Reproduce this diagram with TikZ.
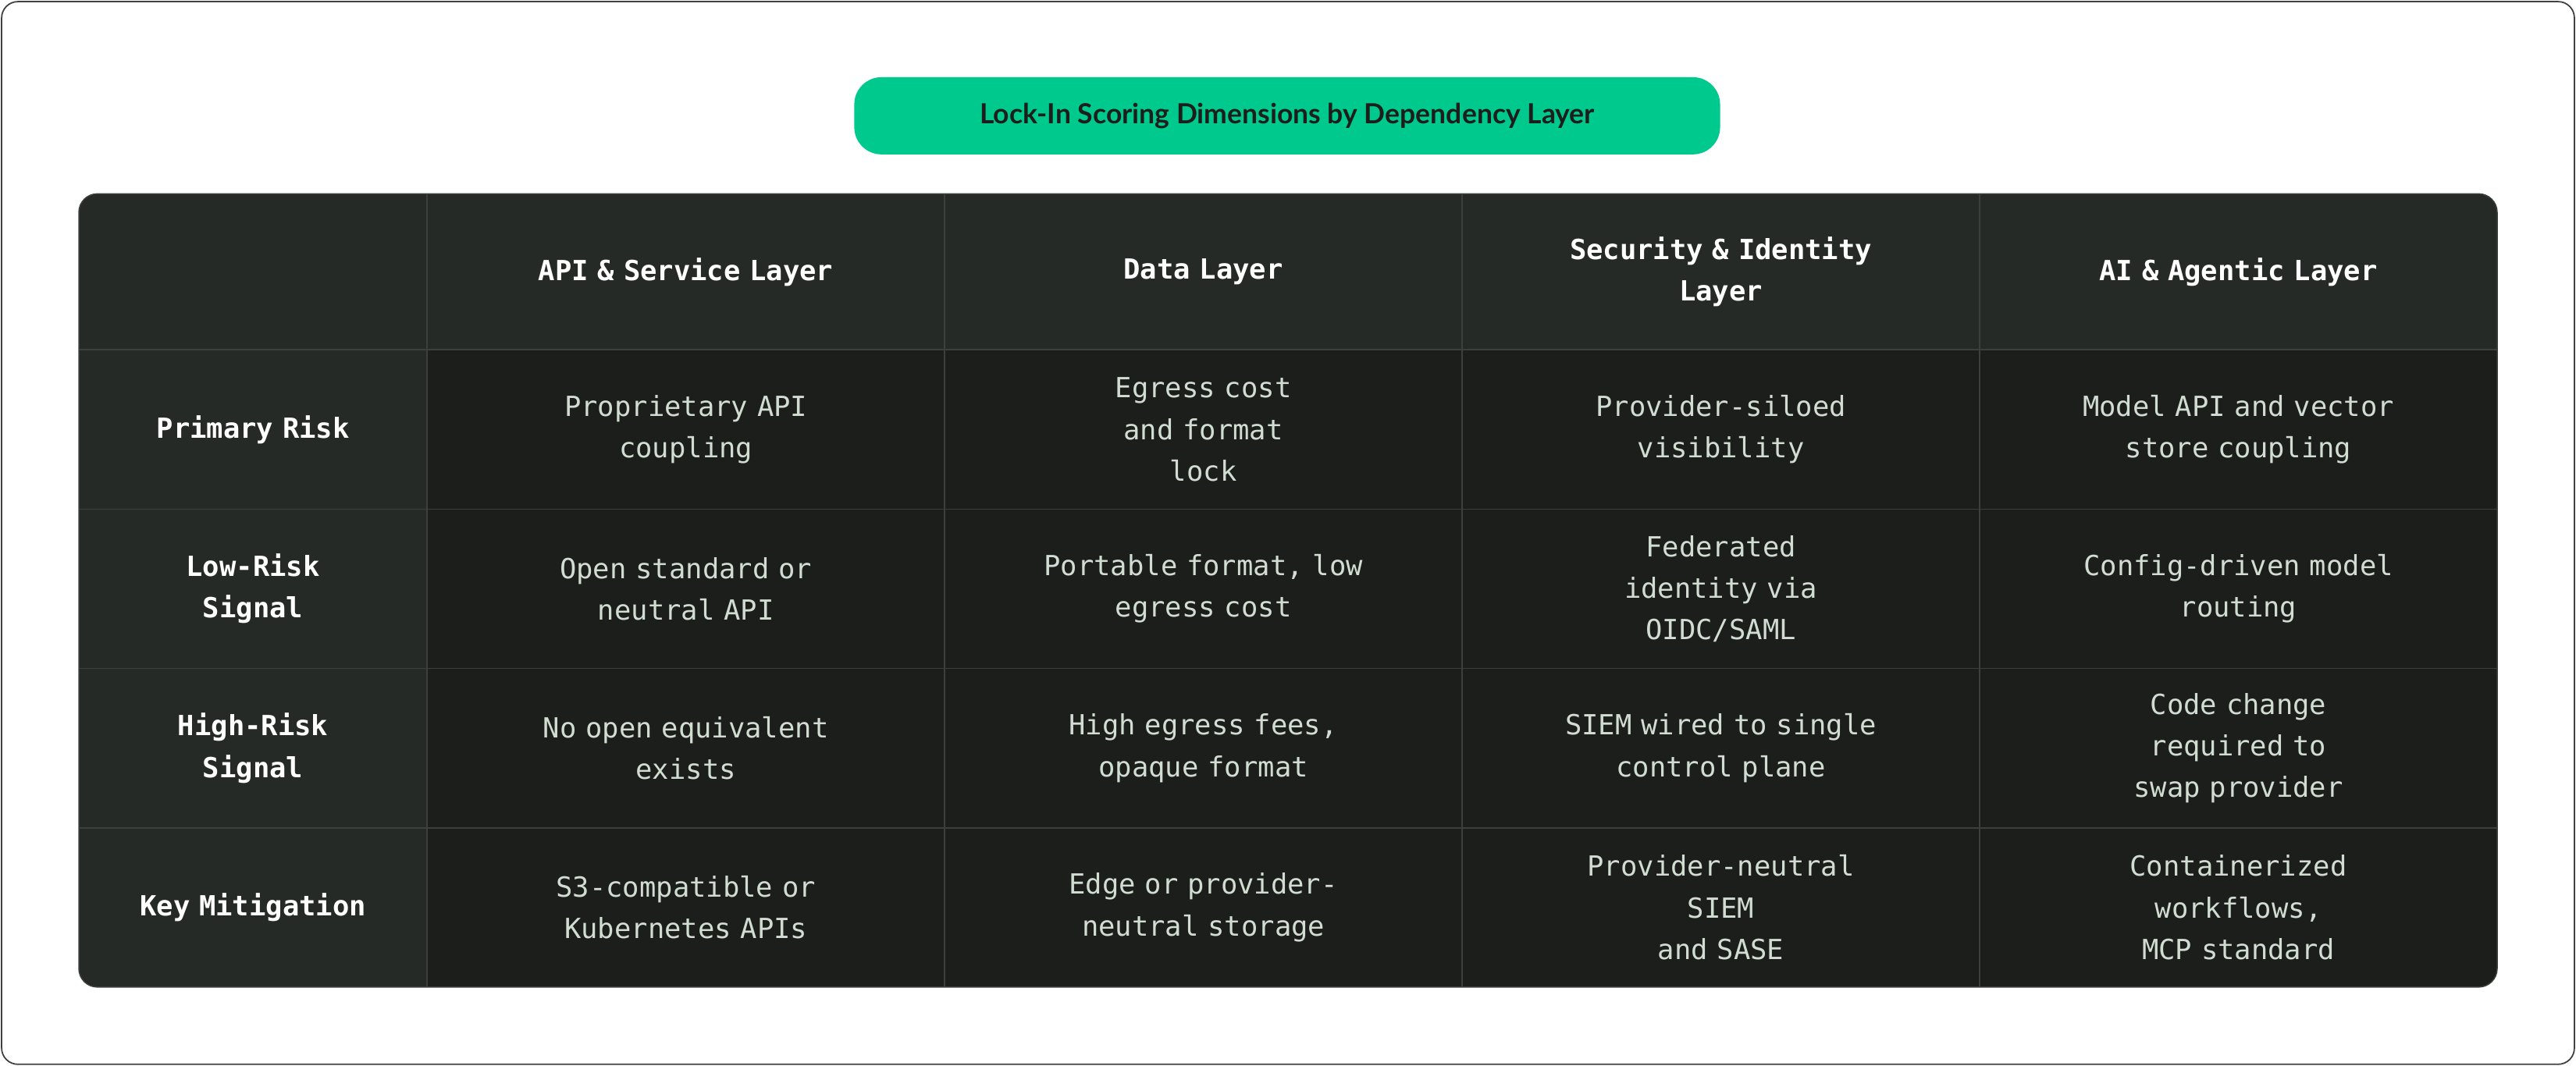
\documentclass[tikz,border=0pt]{standalone}
\usepackage{fontspec}
\setmainfont{Lato}
\setmonofont{DejaVu Sans Mono}
\begin{document}
\begin{tikzpicture}[x=0.05cm,y=-0.05cm,
  hd/.style={fill=hdc,draw=none},
  bd/.style={fill=bdc,draw=none},
  ht/.style={text=white,font=\ttfamily\bfseries\fontsize{24}{36}\selectfont,align=center,text width=280},
  bt/.style={text=txc,font=\ttfamily\fontsize{24}{36}\selectfont,align=center,text width=290}]
\definecolor{hdc}{HTML}{262A27}
\definecolor{bdc}{HTML}{1B1E1B}
\definecolor{lnc}{HTML}{3C403D}
\definecolor{txc}{HTML}{D2DDD2}
\definecolor{grn}{HTML}{00C98D}
\useasboundingbox (0,0) rectangle (1568,649);
\draw[fill=white,draw=black!75,line width=1.2pt,rounded corners=14] (1,1) rectangle (1567,648);
\node[fill=grn,rounded corners=23.5,minimum width=527*0.05cm,minimum height=47*0.05cm,font=\bfseries\fontsize{24}{28}\selectfont,text=bdc] (title) at (783.5,70.5) {Lock-In Scoring Dimensions by Dependency Layer};
\begin{scope}
\clip[rounded corners=16] (48,118) rectangle (1520,601);
\fill[bdc] (48,118) rectangle (1520,601);
\fill[hdc] (48,118) rectangle (1520,213);
\fill[hdc] (48,118) rectangle (260,601);
\foreach \x in {260,575,890,1205} \draw[lnc,line width=1.2pt] (\x,118) -- (\x,601);
\foreach \y in {213,310,407,504} \draw[lnc,line width=1.2pt] (48,\y) -- (1520,\y);
\end{scope}
\draw[lnc,line width=1pt,rounded corners=16] (48,118) rectangle (1520,601);
% header
\node[ht] (h1) at (417.5,165.5) {API \& Service Layer};
\node[ht] (h2) at (732.5,165.5) {Data Layer};
\node[ht] (h3) at (1047.5,165.5) {Security \& Identity\\Layer};
\node[ht] (h4) at (1362.5,165.5) {AI \& Agentic Layer};
\node[ht,text width=200] (r1) at (154,261.5) {Primary Risk};
\node[ht,text width=200] (r2) at (154,358.5) {Low-Risk\\Signal};
\node[ht,text width=200] (r3) at (154,455.5) {High-Risk\\Signal};
\node[ht,text width=200] (r4) at (154,552.5) {Key Mitigation};
% body
\node[bt] (c11) at (417.5,261.5) {Proprietary API\\coupling};
\node[bt] (c12) at (732.5,261.5) {Egress cost and format\\lock};
\node[bt] (c13) at (1047.5,261.5) {Provider-siloed\\visibility};
\node[bt] (c14) at (1362.5,261.5) {Model API and vector\\store coupling};
\node[bt] (c21) at (417.5,358.5) {Open standard or\\neutral API};
\node[bt] (c22) at (732.5,358.5) {Portable format, low\\egress cost};
\node[bt] (c23) at (1047.5,358.5) {Federated identity via\\OIDC/SAML};
\node[bt] (c24) at (1362.5,358.5) {Config-driven model\\routing};
\node[bt] (c31) at (417.5,455.5) {No open equivalent\\exists};
\node[bt] (c32) at (732.5,455.5) {High egress fees,\\opaque format};
\node[bt] (c33) at (1047.5,455.5) {SIEM wired to single\\control plane};
\node[bt] (c34) at (1362.5,455.5) {Code change required to\\swap provider};
\node[bt] (c41) at (417.5,552.5) {S3-compatible or\\Kubernetes APIs};
\node[bt] (c42) at (732.5,552.5) {Edge or provider-\\neutral storage};
\node[bt] (c43) at (1047.5,552.5) {Provider-neutral SIEM\\and SASE};
\node[bt] (c44) at (1362.5,552.5) {Containerized\\workflows, MCP standard};
\end{tikzpicture}
\end{document}
